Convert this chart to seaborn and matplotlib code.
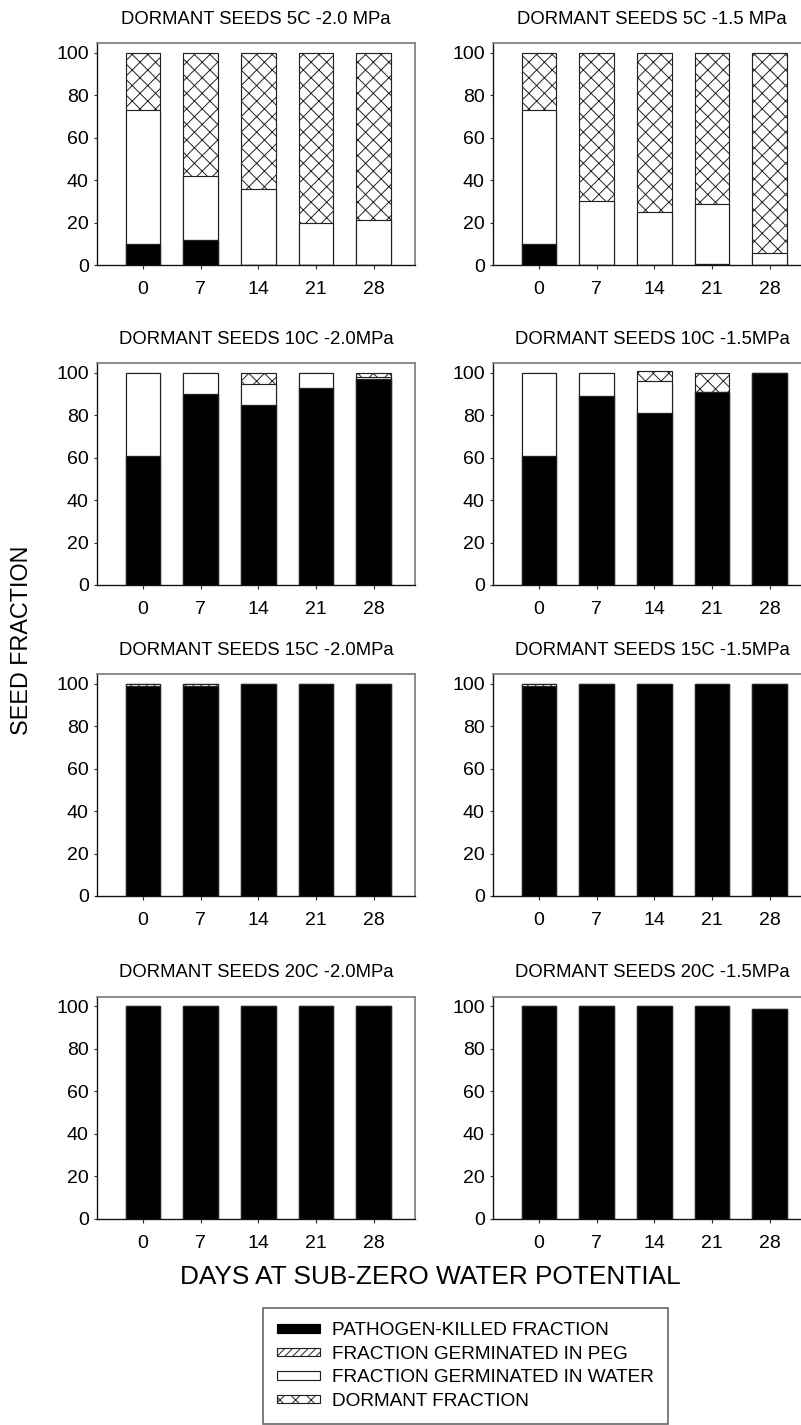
import matplotlib
matplotlib.use("Agg")
import matplotlib.pyplot as plt
from matplotlib.patches import Patch
import seaborn as sns

# days after transfer, shared by every panel
days = ["0", "7", "14", "21", "28"]

# 5C
titles_5 = ["DORMANT SEEDS 5C -2.0 MPa", "DORMANT SEEDS 5C -1.5 MPa"]
killed_5_20 = [10, 12, 0, 0, 0]
peg_5_20 = [0, 0, 0, 0, 0]
water_5_20 = [63, 30, 36, 20, 21]
dormant_5_20 = [27, 58, 64, 80, 79]
killed_5_15 = [10, 0, 0, 0.5, 0]
peg_5_15 = [0, 0, 0, 0, 0]
water_5_15 = [63, 30, 25, 28.5, 5.5]
dormant_5_15 = [27, 70, 75, 71, 94.5]

# 10C
titles_10 = ["DORMANT SEEDS 10C -2.0MPa", "DORMANT SEEDS 10C -1.5MPa"]
killed_10_20 = [61, 90, 85, 93, 97]
peg_10_20 = [0, 0, 0, 0, 0]
water_10_20 = [39, 10, 10, 7, 1]
dormant_10_20 = [0, 0, 5, 0, 2]
killed_10_15 = [61, 89, 81, 91, 100]
peg_10_15 = [0, 0, 0, 0, 0]
water_10_15 = [39, 11, 15, 0, 0]
dormant_10_15 = [0, 0, 5, 9, 0]

# 15C
titles_15 = ["DORMANT SEEDS 15C -2.0MPa", "DORMANT SEEDS 15C -1.5MPa"]
killed_15_20 = [99, 99, 100, 100, 100]
peg_15_20 = [1, 1, 0, 0, 0]
water_15_20 = [0, 0, 0, 0, 0]
dormant_15_20 = [0, 0, 0, 0, 0]
killed_15_15 = [99, 100, 100, 100, 100]
peg_15_15 = [1, 0, 0, 0, 0]
water_15_15 = [0, 0, 0, 0, 0]
dormant_15_15 = [0, 0, 0, 0, 0]

# 20C
titles_20 = ["DORMANT SEEDS 20C -2.0MPa", "DORMANT SEEDS 20C -1.5MPa"]
killed_20_20 = [100, 100, 100, 100, 100]
peg_20_20 = [0, 0, 0, 0, 0]
water_20_20 = [0, 0, 0, 0, 0]
dormant_20_20 = [0, 0, 0, 0, 0]
killed_20_15 = [100, 100, 100, 100, 98.7]
peg_20_15 = [0, 0, 0, 0, 0]
water_20_15 = [0, 0, 0, 0, 0]
dormant_20_15 = [0, 0, 0, 0, 0]

legend_labels = ["PATHOGEN-KILLED FRACTION", "FRACTION GERMINATED IN PEG",
                 "FRACTION GERMINATED IN WATER", "DORMANT FRACTION"]

panels = [
    (titles_5[0], killed_5_20, peg_5_20, water_5_20, dormant_5_20),
    (titles_5[1], killed_5_15, peg_5_15, water_5_15, dormant_5_15),
    (titles_10[0], killed_10_20, peg_10_20, water_10_20, dormant_10_20),
    (titles_10[1], killed_10_15, peg_10_15, water_10_15, dormant_10_15),
    (titles_15[0], killed_15_20, peg_15_20, water_15_20, dormant_15_20),
    (titles_15[1], killed_15_15, peg_15_15, water_15_15, dormant_15_15),
    (titles_20[0], killed_20_20, peg_20_20, water_20_20, dormant_20_20),
    (titles_20[1], killed_20_15, peg_20_15, water_20_15, dormant_20_15),
]

sns.set_style("white")
plt.rcParams["font.family"] = ["Liberation Sans", "DejaVu Sans"]
plt.rcParams["text.color"] = "black"
plt.rcParams["xtick.color"] = "black"
plt.rcParams["ytick.color"] = "black"
plt.rcParams["hatch.color"] = "black"
plt.rcParams["hatch.linewidth"] = 0.5

DPI = 140
fig = plt.figure(figsize=(801 / DPI, 1425 / DPI), dpi=DPI)

W, H = 801, 1425
col_x = [97, 493]
row_bottom = [265, 585, 896, 1218.5]
ax_w, ax_h = 318, 222

edge = "#222222"
dorm_hatch = "xxx"

for i, (title, killed, peg, water, dormant) in enumerate(panels):
    r, c = divmod(i, 2)
    ax = fig.add_axes([col_x[c] / W, 1 - row_bottom[r] / H, ax_w / W, ax_h / H])

    # stacked bars, drawn from the top of the stack downwards
    top_k = killed
    top_p = [k + p for k, p in zip(killed, peg)]
    top_w = [t + w for t, w in zip(top_p, water)]
    top_d = [t + d for t, d in zip(top_w, dormant)]

    layers = [(top_d, "white", dorm_hatch), (top_w, "white", None),
              (top_p, "white", "//////"), (top_k, "black", None)]
    for vals, fc, hatch in layers:
        sns.barplot(x=days, y=vals, order=days, color=fc, saturation=1,
                    edgecolor=edge, linewidth=0.6, hatch=hatch, width=0.6,
                    errorbar=None, ax=ax)

    ax.set_xlim(-0.8, 4.72)
    ax.set_ylim(0, 104.7)
    ax.set_yticks([0, 20, 40, 60, 80, 100])
    ax.set_xlabel("")
    ax.set_ylabel("")
    ax.set_title(title, fontsize=9.5, pad=10)
    ax.tick_params(bottom=True, left=True, direction="out", length=1.8,
                   width=0.6, labelsize=10, color="#333333")
    ax.tick_params(axis="x", pad=6.5)
    ax.tick_params(axis="y", pad=2.5)
    for side in ["left", "bottom"]:
        ax.spines[side].set_color("#111111")
        ax.spines[side].set_linewidth(0.7)
    for side in ["top", "right"]:
        ax.spines[side].set_color("#808080")
        ax.spines[side].set_linewidth(0.9)

fig.text(22 / W, 1 - 640 / H, "SEED FRACTION", rotation=90,
         ha="center", va="center", fontsize=12)
fig.text(430 / W, 1 - 1277 / H, "DAYS AT SUB-ZERO WATER POTENTIAL",
         ha="center", va="center", fontsize=13.5)

handles = [Patch(facecolor="black", edgecolor="black", linewidth=0.6),
           Patch(facecolor="white", edgecolor=edge, linewidth=0.6, hatch="//////"),
           Patch(facecolor="white", edgecolor=edge, linewidth=0.6),
           Patch(facecolor="white", edgecolor=edge, linewidth=0.6, hatch=dorm_hatch)]
leg = fig.legend(handles, legend_labels, loc="upper left",
                 bbox_to_anchor=(263 / W, 1 - 1308 / H), fontsize=9.8,
                 frameon=True, fancybox=False, edgecolor="#333333",
                 handlelength=2.26, handleheight=0.3, handletextpad=0.6,
                 labelspacing=0.34, borderpad=0.75, borderaxespad=0)
leg.get_frame().set_linewidth(0.8)

fig.savefig("out.png", dpi=DPI)
